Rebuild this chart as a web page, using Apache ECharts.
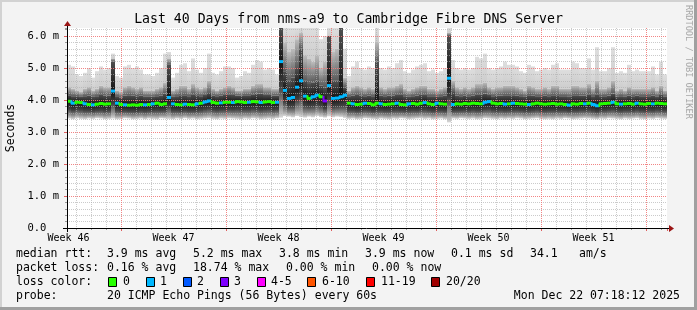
<!DOCTYPE html>
<html><head><meta charset="utf-8">
<script src="https://cdn.jsdelivr.net/npm/echarts@6/dist/echarts.min.js"></script>
<style>html,body{margin:0;padding:0;background:#f3f3f3}#c{width:697px;height:310px}</style>
</head><body><div id="c"></div>
<script>
// ---- data (ms), one entry per time bin, 40 days ----
const medianRtt = [
 3.96,3.90,3.93,3.92,3.88,3.86,3.85,3.87,3.89,3.87,
 3.88,4.28,3.90,3.86,3.85,3.84,3.85,3.84,3.86,3.85,
 3.86,3.88,3.90,3.86,3.88,4.08,3.88,3.86,3.85,3.87,
 3.86,3.85,3.88,3.90,3.94,3.97,3.92,3.90,3.91,3.93,
 3.93,3.92,3.95,3.94,3.92,3.93,3.95,3.94,3.92,3.94,
 3.95,3.92,3.93,5.20,4.30,4.05,4.08,4.40,4.60,4.12,
 4.05,4.10,4.15,4.10,3.97,4.45,4.05,4.06,4.10,4.15,
 3.90,3.88,3.86,3.87,3.90,3.89,3.85,3.90,3.88,3.86,
 3.87,3.88,3.90,3.86,3.85,3.88,3.89,3.87,3.90,3.92,
 3.88,3.86,3.90,3.88,3.87,4.68,3.86,3.88,3.87,3.89,
 3.88,3.90,3.89,3.88,3.93,3.95,3.90,3.88,3.89,3.87,
 3.88,3.90,3.89,3.88,3.87,3.86,3.88,3.90,3.88,3.87,
 3.88,3.89,3.87,3.88,3.86,3.84,3.88,3.87,3.89,3.88,
 3.90,3.86,3.82,3.88,3.89,3.90,3.93,3.88,3.87,3.88,
 3.89,3.87,3.90,3.88,3.87,3.89,3.88,3.90,3.89,3.88
];
const lossPings = [
 0,1,0,0,1,0,1,0,0,0,
 0,1,1,0,1,0,0,0,0,1,
 0,1,0,0,0,1,1,0,0,1,
 0,0,1,0,1,1,0,0,1,0,
 0,1,0,0,0,1,0,0,1,0,
 0,0,1,1,1,1,1,1,1,1,
 0,1,1,0,3,1,1,1,1,1,
 0,1,0,0,1,0,0,0,1,0,
 0,0,1,0,0,1,0,0,0,1,
 0,0,1,0,0,1,1,0,0,0,
 0,0,0,0,1,1,0,0,0,1,
 0,1,0,0,0,1,0,0,0,0,
 0,0,0,0,0,1,0,0,0,1,
 0,1,1,0,0,0,1,0,1,0,
 0,0,1,0,0,0,1,0,0,0
];
const smokeMin = [
 3.42,3.40,3.43,3.41,3.40,3.42,3.41,3.43,3.42,3.40,
 3.41,3.42,3.40,3.41,3.43,3.42,3.40,3.41,3.42,3.40,
 3.42,3.41,3.40,3.43,3.42,3.41,3.40,3.42,3.41,3.43,
 3.41,3.42,3.40,3.41,3.42,3.43,3.41,3.40,3.42,3.41,
 3.43,3.42,3.41,3.40,3.42,3.41,3.43,3.42,3.40,3.41,
 3.42,3.41,3.43,3.45,3.50,3.48,3.46,3.50,3.47,3.45,
 3.48,3.46,3.50,3.47,3.45,3.49,3.46,3.48,3.47,3.44,
 3.41,3.42,3.40,3.41,3.43,3.42,3.41,3.40,3.42,3.41,
 3.40,3.42,3.41,3.43,3.42,3.40,3.41,3.42,3.43,3.41,
 3.42,3.40,3.41,3.42,3.40,3.30,3.42,3.41,3.43,3.42,
 3.41,3.42,3.40,3.41,3.43,3.42,3.41,3.40,3.42,3.41,
 3.42,3.41,3.43,3.42,3.40,3.41,3.42,3.43,3.41,3.40,
 3.41,3.40,3.42,3.41,3.43,3.42,3.40,3.41,3.42,3.43,
 3.42,3.41,3.40,3.42,3.41,3.43,3.42,3.41,3.40,3.42,
 3.41,3.42,3.43,3.41,3.40,3.42,3.41,3.43,3.42,3.41
];
const smokeP75 = [
 4.15,4.12,4.12,4.10,4.12,4.14,4.10,4.12,4.16,4.14,
 4.14,5.20,4.12,4.08,4.14,4.15,4.14,4.12,4.14,4.10,
 4.10,4.10,4.12,4.14,4.20,5.10,4.10,4.12,4.15,4.15,
 4.12,4.18,4.15,4.12,4.16,4.22,4.14,4.12,4.14,4.16,
 4.18,4.16,4.14,4.14,4.15,4.15,4.18,4.20,4.20,4.16,
 4.16,4.14,4.14,6.30,4.90,4.60,4.70,5.00,5.60,4.60,
 4.50,4.55,4.60,4.45,4.40,6.00,4.60,4.60,6.30,4.40,
 4.12,4.14,4.16,4.14,4.12,4.14,4.12,5.20,4.14,4.12,
 4.14,4.14,4.16,4.18,4.12,4.10,4.12,4.14,4.16,4.16,
 4.12,4.12,4.10,4.12,4.14,6.00,4.25,4.14,4.12,4.14,
 4.12,4.14,4.18,4.18,4.20,4.16,4.12,4.14,4.14,4.15,
 4.15,4.15,4.14,4.12,4.10,4.15,4.14,4.12,4.12,4.14,
 4.12,4.15,4.15,4.12,4.12,4.10,4.15,4.15,4.14,4.14,
 4.18,4.12,4.18,4.12,4.12,4.14,4.20,4.10,4.12,4.10,
 4.14,4.12,4.14,4.12,4.12,4.12,4.14,4.10,4.16,4.10
];
const smokeP90 = [
 4.40,4.35,4.30,4.25,4.35,4.40,4.30,4.35,4.45,4.40,
 4.40,5.30,4.30,4.25,4.40,4.45,4.40,4.35,4.40,4.30,
 4.30,4.30,4.35,4.40,4.55,5.30,4.30,4.35,4.45,4.45,
 4.35,4.50,4.40,4.35,4.40,4.60,4.35,4.30,4.35,4.40,
 4.45,4.40,4.30,4.30,4.35,4.35,4.45,4.50,4.50,4.40,
 4.40,4.35,4.35,6.30,5.80,5.50,5.60,5.90,6.10,5.40,
 5.30,5.20,5.40,5.00,5.20,6.00,5.50,5.60,6.30,4.70,
 4.30,4.40,4.45,4.40,4.35,4.40,4.35,5.80,4.40,4.35,
 4.40,4.40,4.45,4.50,4.35,4.30,4.35,4.40,4.45,4.45,
 4.35,4.35,4.30,4.35,4.40,6.10,4.60,4.40,4.35,4.40,
 4.35,4.40,4.50,4.50,4.55,4.40,4.35,4.40,4.40,4.45,
 4.45,4.45,4.40,4.35,4.30,4.45,4.40,4.35,4.35,4.40,
 4.35,4.45,4.45,4.35,4.35,4.35,4.45,4.45,4.40,4.40,
 4.50,4.35,4.60,4.35,4.35,4.40,4.60,4.30,4.35,4.30,
 4.40,4.35,4.35,4.35,4.35,4.35,4.40,4.30,4.45,4.30
];
const smokeMax = [
 5.10,5.05,4.80,4.75,4.85,5.00,4.70,4.90,5.05,4.95,
 5.00,5.45,4.75,4.70,5.05,5.10,5.00,5.05,4.95,4.80,
 4.80,4.75,4.85,5.00,5.45,5.50,4.70,4.85,5.10,5.15,
 4.90,5.30,4.95,4.85,5.00,5.45,4.85,4.80,4.90,5.05,
 5.05,5.00,4.70,4.75,4.90,4.85,5.10,5.25,5.20,4.95,
 5.00,4.95,4.80,6.30,6.30,6.30,6.30,6.30,6.30,6.30,
 6.30,6.30,6.30,5.90,6.00,6.30,6.30,6.30,6.30,5.60,
 4.75,5.05,5.20,5.00,4.95,5.05,5.00,6.30,5.00,4.95,
 5.05,5.00,5.15,5.25,4.90,4.85,4.95,5.05,5.10,5.15,
 4.90,4.95,4.85,4.90,5.00,6.30,5.25,5.00,4.95,5.00,
 4.95,5.00,5.35,5.30,5.45,5.00,4.95,5.00,5.05,5.20,
 5.10,5.10,5.05,4.90,4.85,5.10,5.05,4.90,4.95,5.00,
 4.95,5.10,5.15,4.95,4.95,4.95,5.20,5.15,5.00,5.00,
 5.30,4.95,5.65,4.90,4.90,5.00,5.65,4.85,4.90,4.85,
 5.10,4.90,4.95,4.90,4.90,4.90,5.05,4.80,5.20,4.80
];
const totalDays = 40;
const weekLabels = ['Week 46','Week 47','Week 48','Week 49','Week 50','Week 51'];
const lossLabels = ['0','1','2','3','4-5','6-10','11-19','20/20'];
const lossColors = ['#26ff00','#00b8ff','#0059ff','#7e00ff','#ff00ff','#ff5500','#ff0000','#a00000'];
const rttStats = ['3.9 ms avg','5.2 ms max','3.8 ms min','3.9 ms now','0.1 ms sd','34.1','am/s'];
const lossStats = ['0.16 % avg','18.74 % max','0.00 % min','0.00 % now'];
const probeText = '20 ICMP Echo Pings (56 Bytes) every 60s';
const stampText = 'Mon Dec 22 07:18:12 2025';
const titleText = 'Last 40 Days from nms-a9 to Cambridge Fibre DNS Server';

// ---- build ----
const MONO = '"DejaVu Sans Mono", monospace';
function lossBucket(n){ if(n<=3) return n; if(n<=5) return 4; if(n<=10) return 5; if(n<=19) return 6; return 7; }
const binDays = totalDays / medianRtt.length;
const smokeData = medianRtt.map((m,i)=>[i*binDays,(i+1)*binDays,smokeMin[i],smokeP75[i],smokeP90[i],smokeMax[i],m]);
const medianData = medianRtt.map((m,i)=>[i*binDays,(i+1)*binDays,m,i>0?medianRtt[i-1]:m,lossBucket(lossPings[i])]);

function renderSmoke(params, api){
  const cs = params.coordSys, top = cs.y, bottom = cs.y + cs.height;
  const x0 = Math.round(api.coord([api.value(0),0])[0]);
  const x1 = Math.round(api.coord([api.value(1),0])[0]);
  const Y = v => Math.max(top, Math.min(bottom, api.coord([0,v])[1]));
  const yMin=Y(api.value(2)), y75=Y(api.value(3)), y90=Y(api.value(4)), yMax=Y(api.value(5)), yMed=Y(api.value(6));
  const w = x1-x0, ch=[];
  if (y90-yMax>0) ch.push({type:'rect',shape:{x:x0,y:yMax,width:w,height:y90-yMax},
     style:{fill:new echarts.graphic.LinearGradient(0,0,0,1,[{offset:0,color:'#dedede'},{offset:1,color:'#cdcdcd'}])}});
  if (y75-y90>0) ch.push({type:'rect',shape:{x:x0,y:y90,width:w,height:y75-y90},
     style:{fill:new echarts.graphic.LinearGradient(0,0,0,1,[{offset:0,color:'#bdbdbd'},{offset:1,color:'#5a5a5a'}])}});
  const h = yMin-y75;
  const tm = Math.min(0.98, Math.max(0.02,(yMed-y75)/h));
  ch.push({type:'rect',shape:{x:x0,y:y75,width:w,height:h},
     style:{fill:new echarts.graphic.LinearGradient(0,0,0,1,[
       {offset:0,color:'#505050'},{offset:tm,color:'#131313'},
       {offset:tm+(1-tm)*0.45,color:'#424242'},{offset:tm+(1-tm)*0.8,color:'#979797'},{offset:1,color:'#d8d8d8'}])}});
  return {type:'group',children:ch};
}
function renderMedian(params, api){
  const x0 = Math.round(api.coord([api.value(0),0])[0]);
  const x1 = Math.round(api.coord([api.value(1),0])[0]);
  const y = api.coord([0,api.value(2)])[1], yp = api.coord([0,api.value(3)])[1];
  const col = lossColors[api.value(4)];
  const ch = [{type:'line',shape:{x1:x0,y1:y,x2:x1,y2:y},style:{stroke:col,lineWidth:3,lineCap:'butt'}}];
  if (Math.abs(y-yp) > 0.5 && Math.abs(y-yp) <= 5)
    ch.push({type:'line',shape:{x1:x0+0.5,y1:yp,x2:x0+0.5,y2:y},style:{stroke:col,lineWidth:2,lineCap:'square'}});
  return {type:'group',children:ch};
}

const dotted = [1,1];
const hidden = {show:false};
const option = {
  animation:false,
  backgroundColor:'#f3f3f3',
  title:{text:titleText,left:'center',top:12,padding:0,
    textStyle:{fontFamily:MONO,fontSize:13.2,fontWeight:'normal',color:'#000',lineHeight:15}},
  grid:[
    {left:67,top:28,width:600,height:200,show:true,backgroundColor:'#ffffff',borderWidth:0},
    {left:76,top:28,width:591,height:200},
    {left:121,top:28,width:546,height:200},
    {left:68.5,top:28,width:598.5,height:200}
  ],
  xAxis:[
    {gridIndex:0,type:'value',min:0,max:totalDays,show:false},
    {gridIndex:1,type:'value',min:0,max:39.4,interval:1,z:3,
      axisLine:hidden,axisLabel:hidden,
      axisTick:{show:true,length:2,lineStyle:{color:'#9a9a9a'}},
      splitLine:{show:true,showMinLine:true,showMaxLine:false,lineStyle:{color:'rgba(175,175,175,0.65)',type:dotted,width:1}}},
    {gridIndex:2,type:'value',min:0,max:36.4,interval:7,z:4,
      axisLine:hidden,axisLabel:hidden,
      axisTick:{show:true,length:3,lineStyle:{color:'#e06060'}},
      splitLine:{show:true,showMaxLine:false,lineStyle:{color:'rgba(255,110,110,0.75)',type:dotted,width:1}}},
    {gridIndex:3,type:'value',min:0,max:39.9,interval:7,z:4,
      axisLine:hidden,axisTick:hidden,splitLine:hidden,
      axisLabel:{show:true,showMaxLabel:false,margin:5,fontFamily:MONO,fontSize:10,color:'#000',
        formatter:v=>weekLabels[Math.round(v/7)]||''}}
  ],
  yAxis:[
    {gridIndex:0,type:'value',min:0,max:6.25,interval:1,position:'left',z:4,
      axisLine:hidden,
      axisTick:{show:true,length:3,lineStyle:{color:'#e06060'}},
      axisLabel:{show:true,showMaxLabel:false,margin:8,fontFamily:MONO,fontSize:10.5,color:'#000',
        formatter:v=>v===0?'0.0  ':v.toFixed(1)+' m'},
      splitLine:{show:true,showMinLine:false,showMaxLine:false,lineStyle:{color:'rgba(255,110,110,0.75)',type:dotted,width:1}}},
    {gridIndex:0,type:'value',min:0,max:6.25,interval:0.2,position:'left',z:3,
      axisLine:hidden,axisLabel:hidden,
      axisTick:{show:true,length:2,lineStyle:{color:'#9a9a9a'}},
      splitLine:{show:true,showMinLine:false,showMaxLine:false,lineStyle:{color:'rgba(175,175,175,0.65)',type:dotted,width:1}}},
    {gridIndex:1,type:'value',min:0,max:1,show:false},
    {gridIndex:2,type:'value',min:0,max:1,show:false},
    {gridIndex:3,type:'value',min:0,max:1,show:false}
  ],
  series:[
    {type:'custom',name:'smoke',xAxisIndex:0,yAxisIndex:0,z:1,silent:true,
      data:smokeData,encode:{x:[0,1],y:[2,5]},renderItem:renderSmoke},
    {type:'custom',name:'median rtt',xAxisIndex:0,yAxisIndex:0,z:6,silent:true,
      data:medianData,encode:{x:[0,1],y:[2]},renderItem:renderMedian}
  ],
  graphic:[]
};

// frame, axes, arrows, legend texts
const G = option.graphic;
const txt = (x,y,s,extra)=>G.push(Object.assign({type:'text',x:x,y:y,z:50,
  style:{text:s,font:'11.5px '+MONO,fill:'#000',textAlign:'left',textVerticalAlign:'middle'}},extra||{}));
G.push({type:'rect',shape:{x:0,y:0,width:697,height:2},style:{fill:'#d2d2d2'},z:40});
G.push({type:'rect',shape:{x:0,y:0,width:2,height:310},style:{fill:'#d2d2d2'},z:40});
G.push({type:'rect',shape:{x:0,y:307,width:697,height:3},style:{fill:'#a0a0a0'},z:41});
G.push({type:'rect',shape:{x:694,y:0,width:3,height:310},style:{fill:'#a0a0a0'},z:41});
G.push({type:'line',shape:{x1:63,y1:228.5,x2:670,y2:228.5},style:{stroke:'#000',lineWidth:1},z:45});
G.push({type:'line',shape:{x1:67.5,y1:232,x2:67.5,y2:24},style:{stroke:'#000',lineWidth:1},z:45});
G.push({type:'polygon',shape:{points:[[669,225],[669,232],[674,228.5]]},style:{fill:'#9a1515'},z:46});
G.push({type:'polygon',shape:{points:[[64,26],[71,26],[67.5,21]]},style:{fill:'#9a1515'},z:46});
// y-axis title and vendor tag
G.push({type:'text',x:11,y:128,rotation:Math.PI/2,z:50,
  style:{text:'Seconds',font:'11.5px '+MONO,fill:'#000',textAlign:'center',textVerticalAlign:'middle'}});
G.push({type:'text',x:688,y:5,rotation:-Math.PI/2,z:50,
  style:{text:'RRDTOOL / TOBI OETIKER',font:'8.6px '+MONO,fill:'#a8a8a8',textAlign:'left',textVerticalAlign:'middle'}});
// row 1
txt(16,254.3,'median rtt:');
[107,193,279,365,451,530,579].forEach((x,i)=>txt(x,254.3,rttStats[i]));
// row 2
txt(16,267.7,'packet loss:');
[107,193,286,372].forEach((x,i)=>txt(x,267.7,lossStats[i]));
// row 3
txt(16,281.7,'loss color:');
const boxX=[108,146,183,220,257,307,366,431], labX=[123,160,197,234,271,322,381,446];
lossLabels.forEach((l,i)=>{
  G.push({type:'rect',shape:{x:boxX[i]+0.5,y:277.5,width:8,height:9},style:{fill:lossColors[i],stroke:'#000',lineWidth:1},z:50});
  txt(labX[i],281.7,l);
});
// row 4
txt(16,296,'probe:');
txt(107,296,probeText);
txt(680,296,stampText,{style:{text:stampText,font:'11.5px '+MONO,fill:'#000',textAlign:'right',textVerticalAlign:'middle'}});

const chart = echarts.init(document.getElementById('c'),null,{renderer:'canvas'});
chart.setOption(option);
</script></body></html>
